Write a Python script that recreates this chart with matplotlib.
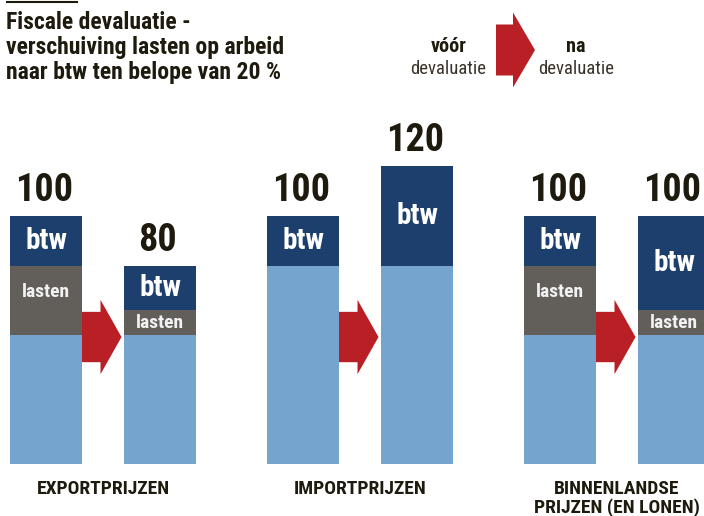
import matplotlib
matplotlib.use("Agg")
import matplotlib.pyplot as plt
from matplotlib.patches import Polygon
from matplotlib.lines import Line2D

# ---------------- data ----------------
categories = ["EXPORTPRIJZEN", "IMPORTPRIJZEN", "BINNENLANDSE\nPRIJZEN (EN LONEN)"]
base_voor = [52, 80, 52]
lasten_voor = [28, 0, 28]
btw_voor = [20, 20, 20]
base_na = [52, 80, 52]
lasten_na = [10, 0, 10]
btw_na = [18, 40, 38]
title_lines = ["Fiscale devaluatie -", "verschuiving lasten op arbeid",
               "naar btw ten belope van 20 %"]
legend_left = ("vóór", "devaluatie")
legend_right = ("na", "devaluatie")

# ---------------- style ----------------
C_BTW = "#1c3f6e"
C_LAST = "#625e59"
C_BASE = "#75a5cf"
C_ARROW = "#b82025"
C_TEXT = "#1e1a0e"
C_SOFT = "#3a342a"
COND = ["Roboto Condensed", "Barlow Semi Condensed", "Archivo Narrow",
        "Liberation Sans Narrow", "DejaVu Sans"]
plt.rcParams["font.family"] = COND

W, H = 704, 516
fig = plt.figure(figsize=(W / 100, H / 100), dpi=100)
ax = fig.add_axes([0, 0, 1, 1])
ax.set_axis_off()

PX_PER_UNIT = 2.48
BASE_PX = 52  # baseline height from bottom in pixels
ax.set_xlim(0, W)
ax.set_ylim(-BASE_PX / PX_PER_UNIT, (H - BASE_PX) / PX_PER_UNIT)

group_left = [10, 267, 524]
pair_offset = 114
bar_w = 72


def stacked(x_left, base, last, btw):
    xc = x_left + bar_w / 2
    ax.bar(xc, base, width=bar_w, color=C_BASE, linewidth=0)
    if last:
        ax.bar(xc, last, bottom=base, width=bar_w, color=C_LAST, linewidth=0)
        top_l = base + last
        ax.text(xc, top_l - min(last / 2, 10.5), "lasten", color="#f2f2f2",
                fontsize=14, fontweight="bold", ha="center", va="center")
    ax.bar(xc, btw, bottom=base + last, width=bar_w, color=C_BTW, linewidth=0)
    ax.text(xc, base + last + btw / 2, "btw", color="white", fontsize=21,
            fontweight="bold", ha="center", va="center")
    total = base + last + btw
    ax.text(xc - 2, total + 10.3, f"{total}", color=C_TEXT, fontsize=27.5,
            fontweight="bold", ha="center", va="center")


def arrow(x0, x1, yc, body_h, head_h, head_len, transform):
    xh = x1 - head_len
    pts = [(x0, yc - body_h / 2), (xh, yc - body_h / 2), (xh, yc - head_h / 2),
           (x1, yc), (xh, yc + head_h / 2), (xh, yc + body_h / 2),
           (x0, yc + body_h / 2)]
    ax.add_patch(Polygon(pts, closed=True, facecolor=C_ARROW, edgecolor="none",
                         transform=transform, clip_on=False))


for i, cat in enumerate(categories):
    xl1 = group_left[i]
    xl2 = xl1 + pair_offset
    stacked(xl1, base_voor[i], lasten_voor[i], btw_voor[i])
    stacked(xl2, base_na[i], lasten_na[i], btw_na[i])
    # arrow between the two bars (y in value units)
    arrow(xl1 + bar_w, xl2 - 2.5, 51.2, 20.3, 30.0, 21, ax.transData)
    # category label
    ax.text((xl1 + xl2 + bar_w) / 2, -16.5 / PX_PER_UNIT, cat,
            color=C_TEXT, fontsize=14, fontweight="bold", ha="center",
            va="top", linespacing=0.98)

# ---------------- title ----------------
def fx(x):
    return x / W


def fy(y):
    return 1 - y / H


fig.add_artist(Line2D([fx(7), fx(77)], [fy(1.5), fy(1.5)], color=C_TEXT,
                      lw=1.5, transform=fig.transFigure))
for k, line in enumerate(title_lines):
    fig.text(fx(6), fy(29 + 25 * k), line, fontsize=17, fontweight="bold",
             color=C_TEXT, ha="left", va="baseline")

# ---------------- legend ----------------
fig.text(fx(449), fy(52), legend_left[0], fontsize=14.5, fontweight="bold",
         color=C_TEXT, ha="center", va="baseline")
fig.text(fx(448), fy(74), legend_left[1], fontsize=13.5, color=C_SOFT,
         ha="center", va="baseline")
fig.text(fx(576), fy(52), legend_right[0], fontsize=14.5, fontweight="bold",
         color=C_TEXT, ha="center", va="baseline")
fig.text(fx(576), fy(74), legend_right[1], fontsize=13.5, color=C_SOFT,
         ha="center", va="baseline")

# legend arrow in figure pixels
xl0, xl1, xh = 496, 535, 513
yc, bh, hh = 50, 51, 75
pts = [(xl0, yc - bh / 2), (xh, yc - bh / 2), (xh, yc - hh / 2), (xl1, yc),
       (xh, yc + hh / 2), (xh, yc + bh / 2), (xl0, yc + bh / 2)]
fig.add_artist(Polygon([(fx(a), fy(b)) for a, b in pts], closed=True,
                       facecolor=C_ARROW, edgecolor="none",
                       transform=fig.transFigure))

fig.savefig("out.png", dpi=100)
